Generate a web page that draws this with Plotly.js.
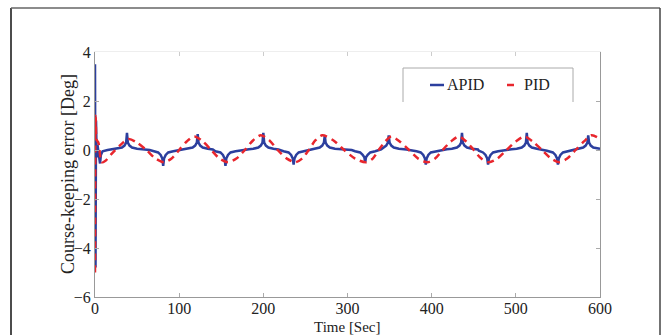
<!DOCTYPE html>
<html>
<head>
<meta charset="utf-8">
<script src="https://cdn.plot.ly/plotly-3.0.1.min.js"></script>
<style>html,body{margin:0;padding:0;background:#fff;}#chart{width:661px;height:335px;}</style>
</head>
<body>
<div id="chart"></div>
<script>
// APID series (time [s], error [deg])
var apidT = [0,0.6,1.2,2,3,4.5,6,7,9,15,22,
  26,32,35,37,38,39,41,44,50,60,
  65,70,75,78,80,81,82,84,87,93,100,
  105,110,116,119,121,122,123,125,128,134,140,
  143,149,152,154,155,156,158,161,167,175,
  183,188,194,197,199,200,201,203,206,212,218,
  224,230,233,235,236,237,239,242,248,255,
  258,261,267,270,272,273,274,276,279,285,295,
  305,309,315,318,320,321,322,324,327,333,
  340,343,346,348,349,350,352,355,361,370,
  378,382,387,390,392,393,394,396,399,405,412,
  418,424,430,433,435,436,437,439,442,448,455,
  456,461,464,466,467,468,470,473,479,487,
  495,501,507,510,512,513,514,516,519,525,532,
  537,544,547,549,550,551,553,556,562,569,
  574,580,583,585,586,587,589,592,600];
var apidV = [3.5,-4.8,1.2,-0.3,0.2,-0.2,-0.55,-0.2,-0.05,0.0,0.03,
  0.05,0.1,0.18,0.3,0.7,0.3,0.18,0.1,0.05,0.02,
  0.0,-0.05,-0.1,-0.2,-0.35,-0.65,-0.35,-0.2,-0.1,-0.05,0.0,
  0.03,0.05,0.1,0.18,0.3,0.65,0.3,0.18,0.1,0.05,0.02,
  -0.05,-0.1,-0.2,-0.35,-0.65,-0.35,-0.2,-0.1,-0.05,0.0,
  0.03,0.05,0.1,0.18,0.3,0.7,0.3,0.18,0.1,0.05,0.02,
  -0.05,-0.1,-0.2,-0.35,-0.6,-0.35,-0.2,-0.1,-0.05,0.0,
  0.03,0.05,0.1,0.18,0.3,0.6,0.3,0.18,0.1,0.05,0.02,
  0.0,-0.05,-0.1,-0.2,-0.3,-0.5,-0.3,-0.2,-0.1,-0.05,
  0.03,0.1,0.18,0.3,0.6,0.3,0.18,0.1,0.05,0.02,
  -0.02,-0.05,-0.1,-0.2,-0.35,-0.6,-0.35,-0.2,-0.1,-0.05,0.0,
  0.03,0.05,0.1,0.18,0.3,0.7,0.3,0.18,0.1,0.05,0.02,
  -0.03,-0.1,-0.2,-0.35,-0.6,-0.35,-0.2,-0.1,-0.05,0.0,
  0.03,0.05,0.1,0.18,0.3,0.7,0.3,0.18,0.1,0.05,0.02,
  -0.03,-0.1,-0.2,-0.35,-0.6,-0.35,-0.2,-0.1,-0.05,0.0,
  0.05,0.1,0.18,0.3,0.6,0.3,0.18,0.1,0.05];

// PID series
var pidT = [0,0.8,2,4,8,12,20,30,40,50,61,72,82,91,100,109,118,128,138,148,158,168,178,188,197,207,217,228,238,246,254,262,270,283,296,309,322,330,337,345,352,362,373,384,395,404,413,423,432,441,450,459,468,478,489,500,510,520,531,542,552,561,571,581,590,600];
var pidV = [-5,1.4,0.4,0.3,-0.5,-0.45,-0.15,0.2,0.45,0.3,0,-0.35,-0.5,-0.35,0,0.35,0.55,0.35,0,-0.35,-0.5,-0.35,0,0.4,0.6,0.4,0,-0.35,-0.5,-0.35,0,0.4,0.6,0.4,0,-0.35,-0.5,-0.35,0,0.35,0.55,0.35,0,-0.35,-0.5,-0.35,0,0.35,0.55,0.35,0,-0.35,-0.5,-0.35,0,0.35,0.55,0.35,0,-0.35,-0.5,-0.35,0,0.35,0.6,0.45];

var xTicks = [0,100,200,300,400,500,600];
var yTicks = [-6,-4,-2,0,2,4];
var seriesNames = ['APID', 'PID'];
var seriesColors = ['#2c3f9e', '#e8262d'];

var serif = 'Liberation Serif, Times New Roman, serif';

var traces = [
  {x: apidT, y: apidV, name: seriesNames[0], type: 'scatter', mode: 'lines',
   line: {color: seriesColors[0], width: 2.5}},
  {x: pidT, y: pidV, name: seriesNames[1], type: 'scatter', mode: 'lines',
   line: {color: seriesColors[1], width: 2.5, dash: '7px,5px', shape: 'spline', smoothing: 0.8}},
  {x: [0], y: [0], xaxis: 'x2', yaxis: 'y', mode: 'markers', marker: {opacity: 0}, showlegend: false, hoverinfo: 'skip'}
];

function px2x(p){ return (p - 95) / 505; }
function px2y(p){ return (297 - p) / 245; }

var layout = {
  width: 661, height: 335,
  margin: {l: 95, r: 61, t: 52, b: 38},
  paper_bgcolor: '#fff', plot_bgcolor: '#fff',
  font: {family: serif, size: 16, color: '#222'},
  showlegend: false,
  xaxis: {range: [0, 600], tickvals: xTicks, ticks: 'inside', ticklen: 4, tickcolor: '#aaa',
          showline: true, linecolor: '#999', linewidth: 1, mirror: false, showgrid: false, zeroline: false,
          ticklabelstandoff: -3,
          tickfont: {family: serif, size: 16, color: '#222'}},
  xaxis2: {range: [0, 600], tickvals: xTicks, ticks: 'inside', ticklen: 4, tickcolor: '#ccc',
          overlaying: 'x', side: 'top', showline: true, linecolor: '#eee', showticklabels: false,
          showgrid: false, zeroline: false},
  yaxis: {range: [-6, 4], tickvals: yTicks, ticks: 'inside', ticklen: 4, tickcolor: '#aaa',
          showline: true, linecolor: '#999', linewidth: 1, mirror: 'ticks', showgrid: false, zeroline: false,
          tickfont: {family: serif, size: 16, color: '#222'}},
  annotations: [
    {text: 'Time [Sec]', xref: 'paper', yref: 'paper', x: px2x(347), y: px2y(326.5), xanchor: 'center', yanchor: 'middle',
     showarrow: false, borderpad: 0, font: {family: serif, size: 15, color: '#222'}},
    {text: 'Course-keeping error [Deg]', xref: 'paper', yref: 'paper', x: px2x(68), y: px2y(174), xanchor: 'center', yanchor: 'middle',
     textangle: -90, showarrow: false, font: {family: serif, size: 18, color: '#222'}},
    {text: seriesNames[0], xref: 'paper', yref: 'paper', x: px2x(445), y: px2y(85), xanchor: 'left', yanchor: 'middle',
     showarrow: false, font: {family: serif, size: 16, color: '#222'}},
    {text: seriesNames[1], xref: 'paper', yref: 'paper', x: px2x(522), y: px2y(85), xanchor: 'left', yanchor: 'middle',
     showarrow: false, font: {family: serif, size: 16, color: '#222'}}
  ],
  shapes: [
    {type: 'line', xref: 'paper', yref: 'paper', x0: px2x(11), x1: px2x(11), y0: px2y(8), y1: px2y(340), line: {color: '#111', width: 1.5}},
    {type: 'line', xref: 'paper', yref: 'paper', x0: px2x(11), x1: px2x(660), y0: px2y(8), y1: px2y(8), line: {color: '#666', width: 1.5}},
    {type: 'line', xref: 'paper', yref: 'paper', x0: px2x(660), x1: px2x(660), y0: px2y(8), y1: px2y(340), line: {color: '#444', width: 1.5}},
    {type: 'path', xref: 'paper', yref: 'paper',
     path: 'M' + px2x(403) + ',' + px2y(102) + ' L' + px2x(403) + ',' + px2y(68) + ' L' + px2x(573) + ',' + px2y(68) + ' L' + px2x(573) + ',' + px2y(102),
     line: {color: '#aaa', width: 1}},
    {type: 'line', xref: 'paper', yref: 'paper', x0: px2x(430), x1: px2x(444), y0: px2y(85), y1: px2y(85), line: {color: seriesColors[0], width: 2.5}},
    {type: 'line', xref: 'paper', yref: 'paper', x0: px2x(507), x1: px2x(514), y0: px2y(85), y1: px2y(85), line: {color: seriesColors[1], width: 2.5}}
  ]
};

Plotly.newPlot('chart', traces, layout, {displayModeBar: false, staticPlot: true});
</script>
</body>
</html>
